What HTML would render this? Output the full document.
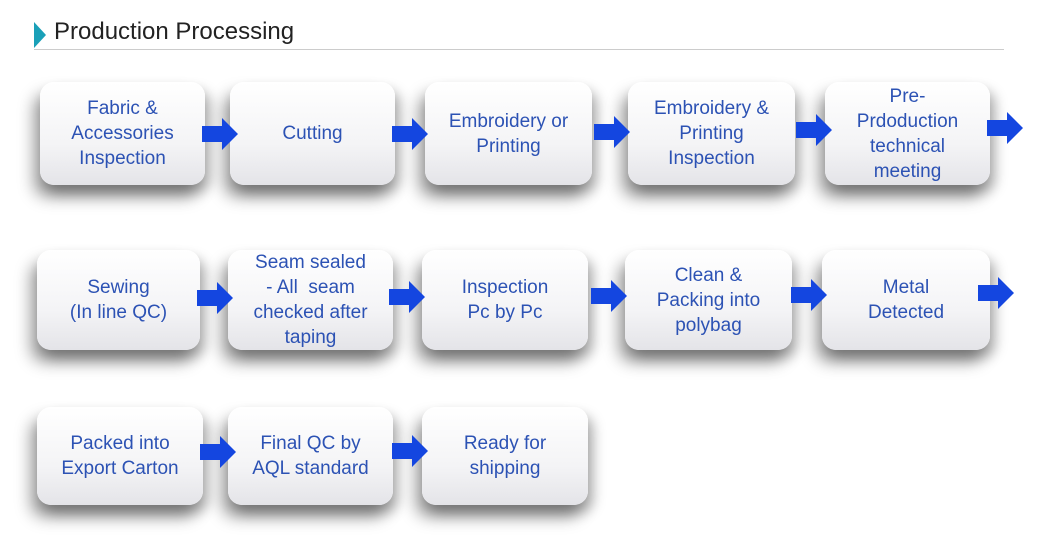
<!DOCTYPE html>
<html><head><style>
body{margin:0;width:1060px;height:544px;background:#fff;position:relative;overflow:hidden;font-family:"Liberation Sans",sans-serif}
.t{position:absolute;left:54px;top:18px;font-size:24px;color:#222}
.tri{position:absolute;left:34px;top:22px;width:0;height:0;border-top:13px solid transparent;border-bottom:13px solid transparent;border-left:12px solid #1aa0b8}
.line{position:absolute;left:34px;top:49px;width:970px;height:1px;background:#ccc}
.b{position:absolute;border-radius:14px;background:linear-gradient(#ffffff,#f4f4f6 60%,#e4e4e8);box-shadow:-6px 12px 16px rgba(0,0,0,0.4),6px 8px 12px rgba(0,0,0,0.25);display:flex;align-items:center;justify-content:center;text-align:center;color:#2c52b4;font-size:19px;line-height:25px}
</style></head><body>
<div class="tri"></div><div class="t">Production Processing</div><div class="line"></div>

<div class="b" style="left:40px;top:82px;width:165px;height:103px">Fabric &amp;<br>Accessories<br>Inspection</div>
<div class="b" style="left:230px;top:82px;width:165px;height:103px">Cutting</div>
<div class="b" style="left:425px;top:82px;width:167px;height:103px">Embroidery or<br>Printing</div>
<div class="b" style="left:628px;top:82px;width:167px;height:103px">Embroidery &amp;<br>Printing<br>Inspection</div>
<div class="b" style="left:825px;top:82px;width:165px;height:103px">Pre-<br>Prdoduction<br>technical<br>meeting</div>

<div class="b" style="left:37px;top:250px;width:163px;height:100px">Sewing<br>(In line QC)</div>
<div class="b" style="left:228px;top:250px;width:165px;height:100px">Seam sealed<br>- All &nbsp;seam<br>checked after<br>taping</div>
<div class="b" style="left:422px;top:250px;width:166px;height:100px">Inspection<br>Pc by Pc</div>
<div class="b" style="left:625px;top:250px;width:167px;height:100px">Clean &amp;<br>Packing into<br>polybag</div>
<div class="b" style="left:822px;top:250px;width:168px;height:100px">Metal<br>Detected</div>

<div class="b" style="left:37px;top:407px;width:166px;height:98px">Packed into<br>Export Carton</div>
<div class="b" style="left:228px;top:407px;width:165px;height:98px">Final QC by<br>AQL standard</div>
<div class="b" style="left:422px;top:407px;width:166px;height:98px">Ready for<br>shipping</div>

<svg width="1060" height="544" style="position:absolute;left:0;top:0">
<defs><path id="ar" d="M0,-8 H20 V-16 L36,0 L20,16 V8 H0 Z" fill="#1446e0"/></defs>
<use href="#ar" x="202" y="134"/>
<use href="#ar" x="392" y="134"/>
<use href="#ar" x="594" y="132"/>
<use href="#ar" x="796" y="130"/>
<use href="#ar" x="987" y="128"/>
<use href="#ar" x="197" y="298"/>
<use href="#ar" x="389" y="297"/>
<use href="#ar" x="591" y="296"/>
<use href="#ar" x="791" y="295"/>
<use href="#ar" x="978" y="293"/>
<use href="#ar" x="200" y="452"/>
<use href="#ar" x="392" y="451"/>
</svg>
</body></html>
